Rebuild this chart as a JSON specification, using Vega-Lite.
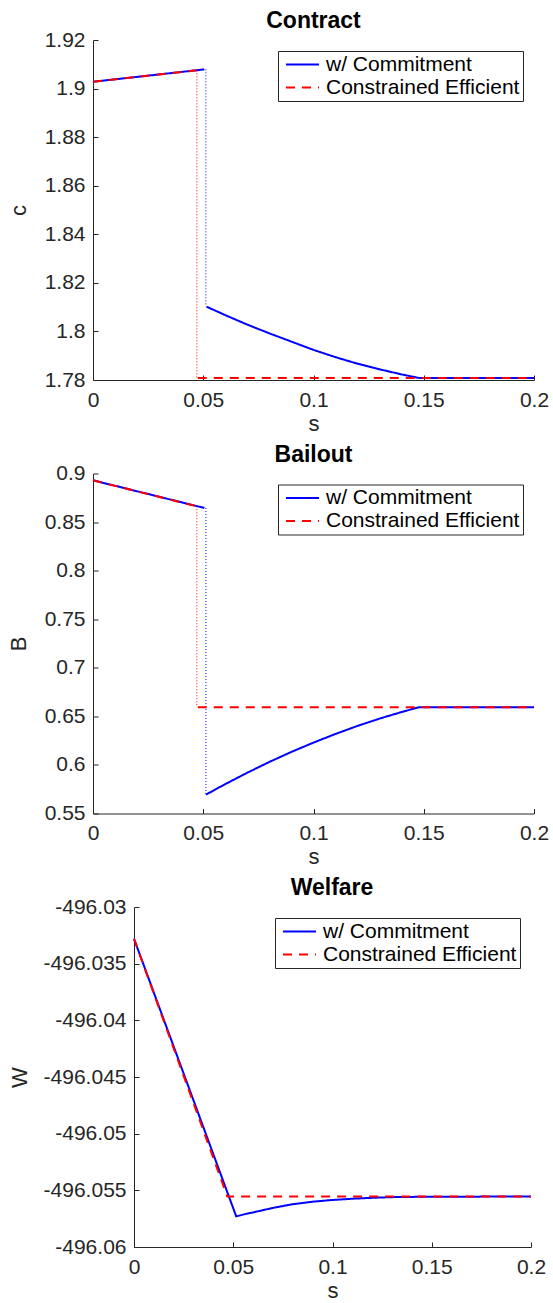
{
  "$schema": "https://vega.github.io/schema/vega-lite/v6.json",
  "padding": {"left": 7, "top": 10, "right": 2, "bottom": 2},
  "background": "white",
  "datasets": {
    "contract": [
      {"series": "w/ Commitment", "seg": "a", "s": 0, "v": 1.9028},
      {"series": "w/ Commitment", "seg": "a", "s": 0.0505, "v": 1.9079},
      {"series": "w/ Commitment", "seg": "b", "s": 0.0515, "v": 1.8102},
      {"series": "w/ Commitment", "seg": "b", "s": 0.06, "v": 1.8067},
      {"series": "w/ Commitment", "seg": "b", "s": 0.07, "v": 1.8028},
      {"series": "w/ Commitment", "seg": "b", "s": 0.08, "v": 1.7992},
      {"series": "w/ Commitment", "seg": "b", "s": 0.09, "v": 1.7958},
      {"series": "w/ Commitment", "seg": "b", "s": 0.1, "v": 1.7924},
      {"series": "w/ Commitment", "seg": "b", "s": 0.11, "v": 1.7894},
      {"series": "w/ Commitment", "seg": "b", "s": 0.12, "v": 1.7867},
      {"series": "w/ Commitment", "seg": "b", "s": 0.13, "v": 1.7844},
      {"series": "w/ Commitment", "seg": "b", "s": 0.14, "v": 1.7823},
      {"series": "w/ Commitment", "seg": "b", "s": 0.148, "v": 1.7808},
      {"series": "w/ Commitment", "seg": "b", "s": 0.2, "v": 1.7808},
      {"series": "Constrained Efficient", "seg": "a", "s": 0, "v": 1.9028},
      {"series": "Constrained Efficient", "seg": "a", "s": 0.047, "v": 1.9075},
      {"series": "Constrained Efficient", "seg": "b", "s": 0.0475, "v": 1.7808},
      {"series": "Constrained Efficient", "seg": "b", "s": 0.2, "v": 1.7808}
    ],
    "contractJumps": [
      {"series": "Constrained Efficient", "s": 0.0471, "v1": 1.9075, "v2": 1.7808},
      {"series": "w/ Commitment", "s": 0.0512, "v1": 1.9079, "v2": 1.8102}
    ],
    "bailout": [
      {"series": "w/ Commitment", "seg": "a", "s": 0, "v": 0.893},
      {"series": "w/ Commitment", "seg": "a", "s": 0.0505, "v": 0.8645},
      {"series": "w/ Commitment", "seg": "b", "s": 0.0512, "v": 0.5694},
      {"series": "w/ Commitment", "seg": "b", "s": 0.06, "v": 0.5803},
      {"series": "w/ Commitment", "seg": "b", "s": 0.07, "v": 0.592},
      {"series": "w/ Commitment", "seg": "b", "s": 0.08, "v": 0.6031},
      {"series": "w/ Commitment", "seg": "b", "s": 0.09, "v": 0.6134},
      {"series": "w/ Commitment", "seg": "b", "s": 0.1, "v": 0.623},
      {"series": "w/ Commitment", "seg": "b", "s": 0.11, "v": 0.6319},
      {"series": "w/ Commitment", "seg": "b", "s": 0.12, "v": 0.6402},
      {"series": "w/ Commitment", "seg": "b", "s": 0.13, "v": 0.6477},
      {"series": "w/ Commitment", "seg": "b", "s": 0.14, "v": 0.6545},
      {"series": "w/ Commitment", "seg": "b", "s": 0.148, "v": 0.6595},
      {"series": "w/ Commitment", "seg": "b", "s": 0.2, "v": 0.6595},
      {"series": "Constrained Efficient", "seg": "a", "s": 0, "v": 0.893},
      {"series": "Constrained Efficient", "seg": "a", "s": 0.047, "v": 0.8663},
      {"series": "Constrained Efficient", "seg": "b", "s": 0.0475, "v": 0.6595},
      {"series": "Constrained Efficient", "seg": "b", "s": 0.2, "v": 0.6595}
    ],
    "bailoutJumps": [
      {"series": "Constrained Efficient", "s": 0.0471, "v1": 0.8663, "v2": 0.6595},
      {"series": "w/ Commitment", "s": 0.0512, "v1": 0.8645, "v2": 0.5694}
    ],
    "welfare": [
      {"series": "w/ Commitment", "seg": "a", "s": 0, "v": -496.0328},
      {"series": "w/ Commitment", "seg": "a", "s": 0.0515, "v": -496.0573},
      {"series": "w/ Commitment", "seg": "a", "s": 0.0566, "v": -496.05707},
      {"series": "w/ Commitment", "seg": "a", "s": 0.06, "v": -496.05695},
      {"series": "w/ Commitment", "seg": "a", "s": 0.07, "v": -496.05655},
      {"series": "w/ Commitment", "seg": "a", "s": 0.08, "v": -496.05622},
      {"series": "w/ Commitment", "seg": "a", "s": 0.09, "v": -496.056},
      {"series": "w/ Commitment", "seg": "a", "s": 0.1, "v": -496.05585},
      {"series": "w/ Commitment", "seg": "a", "s": 0.11, "v": -496.05574},
      {"series": "w/ Commitment", "seg": "a", "s": 0.12, "v": -496.05566},
      {"series": "w/ Commitment", "seg": "a", "s": 0.13, "v": -496.0556},
      {"series": "w/ Commitment", "seg": "a", "s": 0.15, "v": -496.05556},
      {"series": "w/ Commitment", "seg": "a", "s": 0.2, "v": -496.05555},
      {"series": "Constrained Efficient", "seg": "a", "s": 0, "v": -496.0328},
      {"series": "Constrained Efficient", "seg": "a", "s": 0.047, "v": -496.05555},
      {"series": "Constrained Efficient", "seg": "a", "s": 0.2, "v": -496.05555}
    ]
  },
  "vconcat": [
    {
      "width": 441,
      "height": 340,
      "title": {"text": "Contract"},
      "encoding": {
        "x": {"field": "s", "type": "quantitative", "scale": {"domain": [0, 0.2], "nice": false, "zero": false}, "axis": {"title": "s", "values": [0, 0.05, 0.1, 0.15, 0.2]}}
      },
      "layer": [
        {
          "data": {"name": "contractJumps"},
          "transform": [{"filter": "datum.series === 'Constrained Efficient'"}],
          "mark": {"type": "rule", "color": "#ff0000", "strokeDash": [1, 2], "strokeWidth": 1},
          "encoding": {
            "y": {"field": "v1", "type": "quantitative", "scale": {"domain": [1.78, 1.92], "nice": false, "zero": false}, "axis": {"title": "c", "values": [1.78, 1.8, 1.82, 1.84, 1.86, 1.88, 1.9, 1.92], "titlePadding": 14}},
            "y2": {"field": "v2"}
          }
        },
        {
          "data": {"name": "contractJumps"},
          "transform": [{"filter": "datum.series === 'w/ Commitment'"}],
          "mark": {"type": "rule", "color": "#0000ff", "strokeDash": [1, 2], "strokeWidth": 1},
          "encoding": {
            "y": {"field": "v1", "type": "quantitative", "scale": {"domain": [1.78, 1.92], "nice": false, "zero": false}, "axis": {"title": "c", "values": [1.78, 1.8, 1.82, 1.84, 1.86, 1.88, 1.9, 1.92], "titlePadding": 14}},
            "y2": {"field": "v2"}
          }
        },
        {
          "data": {"name": "contract"},
          "transform": [{"filter": "datum.series === 'w/ Commitment'"}],
          "mark": {"type": "line", "strokeWidth": 2},
          "encoding": {
            "y": {"field": "v", "type": "quantitative", "scale": {"domain": [1.78, 1.92], "nice": false, "zero": false}, "axis": {"title": "c", "values": [1.78, 1.8, 1.82, 1.84, 1.86, 1.88, 1.9, 1.92], "titlePadding": 14}},
            "detail": {"field": "seg"},
            "color": {"field": "series", "type": "nominal", "scale": {"domain": ["w/ Commitment", "Constrained Efficient"], "range": ["#0000ff", "#ff0000"]}, "legend": {"title": null}},
            "strokeDash": {"field": "series", "type": "nominal", "scale": {"domain": ["w/ Commitment", "Constrained Efficient"], "range": [[1, 0], [9, 7]]}, "legend": {"title": null}}
          }
        },
        {
          "data": {"name": "contract"},
          "transform": [{"filter": "datum.series === 'Constrained Efficient'"}],
          "mark": {"type": "line", "strokeWidth": 2},
          "encoding": {
            "y": {"field": "v", "type": "quantitative", "scale": {"domain": [1.78, 1.92], "nice": false, "zero": false}, "axis": {"title": "c", "values": [1.78, 1.8, 1.82, 1.84, 1.86, 1.88, 1.9, 1.92], "titlePadding": 14}},
            "detail": {"field": "seg"},
            "color": {"field": "series", "type": "nominal", "scale": {"domain": ["w/ Commitment", "Constrained Efficient"], "range": ["#0000ff", "#ff0000"]}, "legend": {"title": null}},
            "strokeDash": {"field": "series", "type": "nominal", "scale": {"domain": ["w/ Commitment", "Constrained Efficient"], "range": [[1, 0], [9, 7]]}, "legend": {"title": null}}
          }
        }
      ]
    },
    {
      "width": 441,
      "height": 340,
      "title": {"text": "Bailout"},
      "encoding": {
        "x": {"field": "s", "type": "quantitative", "scale": {"domain": [0, 0.2], "nice": false, "zero": false}, "axis": {"title": "s", "values": [0, 0.05, 0.1, 0.15, 0.2]}}
      },
      "layer": [
        {
          "data": {"name": "bailoutJumps"},
          "transform": [{"filter": "datum.series === 'Constrained Efficient'"}],
          "mark": {"type": "rule", "color": "#ff0000", "strokeDash": [1, 2], "strokeWidth": 1},
          "encoding": {
            "y": {"field": "v1", "type": "quantitative", "scale": {"domain": [0.55, 0.9], "nice": false, "zero": false}, "axis": {"title": "B", "values": [0.55, 0.6, 0.65, 0.7, 0.75, 0.8, 0.85, 0.9], "titlePadding": 14}},
            "y2": {"field": "v2"}
          }
        },
        {
          "data": {"name": "bailoutJumps"},
          "transform": [{"filter": "datum.series === 'w/ Commitment'"}],
          "mark": {"type": "rule", "color": "#0000ff", "strokeDash": [1, 2], "strokeWidth": 1},
          "encoding": {
            "y": {"field": "v1", "type": "quantitative", "scale": {"domain": [0.55, 0.9], "nice": false, "zero": false}, "axis": {"title": "B", "values": [0.55, 0.6, 0.65, 0.7, 0.75, 0.8, 0.85, 0.9], "titlePadding": 14}},
            "y2": {"field": "v2"}
          }
        },
        {
          "data": {"name": "bailout"},
          "transform": [{"filter": "datum.series === 'w/ Commitment'"}],
          "mark": {"type": "line", "strokeWidth": 2},
          "encoding": {
            "y": {"field": "v", "type": "quantitative", "scale": {"domain": [0.55, 0.9], "nice": false, "zero": false}, "axis": {"title": "B", "values": [0.55, 0.6, 0.65, 0.7, 0.75, 0.8, 0.85, 0.9], "titlePadding": 14}},
            "detail": {"field": "seg"},
            "color": {"field": "series", "type": "nominal", "scale": {"domain": ["w/ Commitment", "Constrained Efficient"], "range": ["#0000ff", "#ff0000"]}, "legend": {"title": null}},
            "strokeDash": {"field": "series", "type": "nominal", "scale": {"domain": ["w/ Commitment", "Constrained Efficient"], "range": [[1, 0], [9, 7]]}, "legend": {"title": null}}
          }
        },
        {
          "data": {"name": "bailout"},
          "transform": [{"filter": "datum.series === 'Constrained Efficient'"}],
          "mark": {"type": "line", "strokeWidth": 2},
          "encoding": {
            "y": {"field": "v", "type": "quantitative", "scale": {"domain": [0.55, 0.9], "nice": false, "zero": false}, "axis": {"title": "B", "values": [0.55, 0.6, 0.65, 0.7, 0.75, 0.8, 0.85, 0.9], "titlePadding": 14}},
            "detail": {"field": "seg"},
            "color": {"field": "series", "type": "nominal", "scale": {"domain": ["w/ Commitment", "Constrained Efficient"], "range": ["#0000ff", "#ff0000"]}, "legend": {"title": null}},
            "strokeDash": {"field": "series", "type": "nominal", "scale": {"domain": ["w/ Commitment", "Constrained Efficient"], "range": [[1, 0], [9, 7]]}, "legend": {"title": null}}
          }
        }
      ]
    },
    {
      "width": 438,
      "height": 340,
      "title": {"text": "Welfare", "dx": 20},
      "data": {"name": "welfare"},
      "encoding": {
        "x": {"field": "s", "type": "quantitative", "scale": {"domain": [0, 0.2], "range": [41, 438], "nice": false, "zero": false}, "axis": {"title": "s", "values": [0, 0.05, 0.1, 0.15, 0.2]}},
        "y": {"field": "v", "type": "quantitative", "scale": {"domain": [-496.06, -496.03], "nice": false, "zero": false}, "axis": {"title": "W", "offset": -41, "values": [-496.06, -496.055, -496.05, -496.045, -496.04, -496.035, -496.03], "titlePadding": 12}},
        "detail": {"field": "seg"},
        "color": {"field": "series", "type": "nominal", "scale": {"domain": ["w/ Commitment", "Constrained Efficient"], "range": ["#0000ff", "#ff0000"]}, "legend": {"title": null}},
        "strokeDash": {"field": "series", "type": "nominal", "scale": {"domain": ["w/ Commitment", "Constrained Efficient"], "range": [[1, 0], [9, 7]]}, "legend": {"title": null}}
      },
      "layer": [
        {
          "transform": [{"filter": "datum.series === 'w/ Commitment'"}],
          "mark": {"type": "line", "strokeWidth": 2}
        },
        {
          "transform": [{"filter": "datum.series === 'Constrained Efficient'"}],
          "mark": {"type": "line", "strokeWidth": 2}
        }
      ]
    }
  ],
  "spacing": 9.5,
  "resolve": {
    "scale": {"color": "independent", "strokeDash": "independent"},
    "legend": {"color": "independent", "strokeDash": "independent"}
  },
  "config": {
    "view": {"stroke": null},
    "font": "Liberation Sans",
    "title": {"font": "Liberation Sans", "fontSize": 23, "fontWeight": "bold", "color": "#000000", "frame": "group", "offset": -4, "baseline": "alphabetic", "anchor": "middle"},
    "axis": {
      "grid": false,
      "domainColor": "#262626",
      "tickColor": "#262626",
      "labelColor": "#262626",
      "titleColor": "#262626",
      "labelFont": "Liberation Sans",
      "titleFont": "Liberation Sans",
      "labelFontSize": 21,
      "titleFontSize": 22,
      "titleFontWeight": "normal",
      "tickSize": -5,
      "labelPadding": 13,
      "labelFlush": false,
      "labelOverlap": false,
      "labelExpr": "replace(format(datum.value, '~g'), '\u2212', '-')"
    },
    "axisX": {"titlePadding": 3, "labelPadding": 14},
    "legend": {
      "orient": "top-right",
      "offset": 11,
      "strokeColor": "#262626",
      "fillColor": "#ffffff",
      "padding": 3,
      "symbolType": "M-1,0H5",
      "symbolSize": 121,
      "symbolStrokeWidth": 2,
      "symbolFillColor": "transparent",
      "labelFont": "Liberation Sans",
      "labelFontSize": 21,
      "labelColor": "#000000",
      "labelLimit": 400,
      "rowPadding": 1,
      "labelOffset": 24
    }
  }
}
